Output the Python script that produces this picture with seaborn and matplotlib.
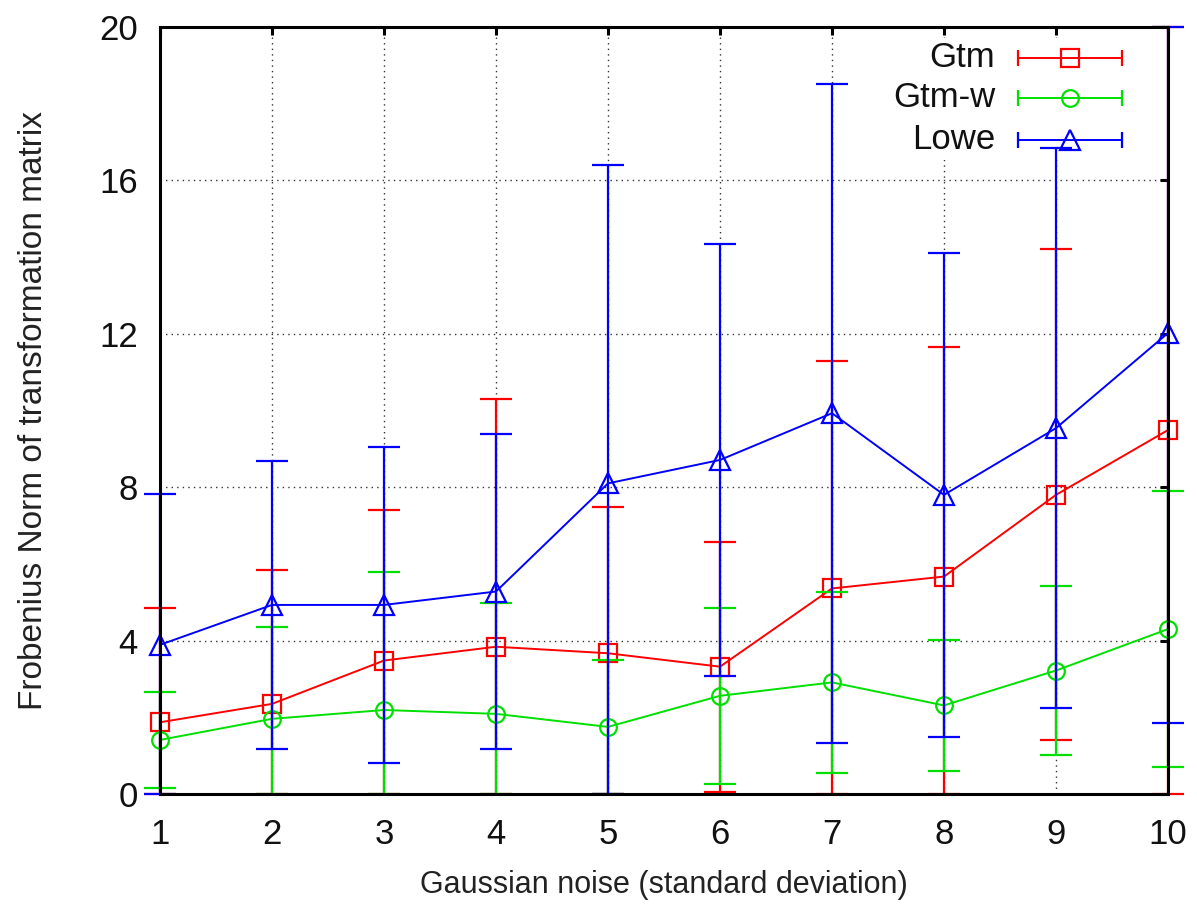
import numpy as np
import pandas as pd
import matplotlib
matplotlib.use("Agg")
import matplotlib.pyplot as plt
import seaborn as sns

# Noise levels (standard deviation of the added Gaussian noise)
noise = [1, 2, 3, 4, 5, 6, 7, 8, 9, 10]

# Mean Frobenius norm and its standard deviation for each method
gtm_mean = [1.87, 2.35, 3.48, 3.84, 3.67, 3.32, 5.36, 5.67, 7.80, 9.49]
gtm_std = [2.97, 3.49, 3.93, 6.46, 3.81, 3.26, 5.93, 5.99, 6.40, 10.8]

gtmw_mean = [1.41, 1.96, 2.19, 2.09, 1.75, 2.56, 2.91, 2.31, 3.22, 4.30]
gtmw_std = [1.25, 2.40, 3.60, 2.88, 1.74, 2.29, 2.36, 1.71, 2.20, 3.60]

lowe_mean = [3.89, 4.93, 4.93, 5.28, 8.10, 8.71, 9.93, 7.80, 9.54, 12.02]
lowe_std = [3.93, 3.76, 4.11, 4.11, 8.30, 5.63, 8.59, 6.31, 7.30, 10.16]

series_names = ["Gtm", "Gtm-w", "Lowe"]
series_colors = ["#ff0000", "#00e000", "#0000ff"]
series_markers = ["s", "o", "^"]
series_msize = [13, 12, 14]

y_ticks = [0, 4, 8, 12, 16, 20]
y_min, y_max = 0, 20

frames = []
for name, m, s in zip(series_names, [gtm_mean, gtmw_mean, lowe_mean],
                      [gtm_std, gtmw_std, lowe_std]):
    frames.append(pd.DataFrame({"noise": noise, "mean": m, "std": s, "method": name}))
df = pd.concat(frames, ignore_index=True)

sns.set_theme(style="white")
plt.rcParams["font.family"] = ["Liberation Sans", "DejaVu Sans"]

fig = plt.figure(figsize=(11.97, 9.16), dpi=100)
ax = fig.add_axes([160 / 1197, 1 - 794 / 916, 1008 / 1197, 767 / 916])

for name, color, marker, msize in zip(series_names, series_colors,
                                      series_markers, series_msize):
    d = df[df["method"] == name]
    # error bars are cut at the plot range, with the caps kept on the border
    lo = np.clip(d["mean"] - d["std"], y_min, y_max)
    hi = np.clip(d["mean"] + d["std"], y_min, y_max)
    eb = ax.errorbar(d["noise"], d["mean"], yerr=[d["mean"] - lo, hi - d["mean"]],
                     fmt="none", ecolor=color, elinewidth=1.6, capsize=11.5,
                     capthick=1.6, zorder=2)
    for art in eb.lines[1] + eb.lines[2]:
        art.set_clip_on(False)
    sns.lineplot(data=d, x="noise", y="mean", ax=ax, color=color, lw=1.4,
                 marker=marker, markersize=msize, markerfacecolor="none",
                 markeredgecolor=color, markeredgewidth=1.6, clip_on=False,
                 errorbar=None, legend=False, zorder=2)

ax.set_xlim(1, 10)
ax.set_ylim(y_min, y_max)
ax.set_xticks(noise)
ax.set_yticks(y_ticks)
ax.set_axisbelow(True)
ax.grid(True, color="black", linestyle=(0, (1, 3)), linewidth=1.0, alpha=0.8)

for sp in ax.spines.values():
    sp.set_visible(True)
    sp.set_color("black")
    sp.set_linewidth(2.2)
    sp.set_zorder(3)

ax.tick_params(axis="both", which="major", direction="in", length=6, width=2.2,
               color="black", labelsize=25, top=True, right=True,
               labelcolor="#111111")
ax.tick_params(axis="x", pad=17)
ax.tick_params(axis="y", pad=16)

ax.set_xlabel("Gaussian noise (standard deviation)", fontsize=22, color="#222222",
              labelpad=14)
ax.set_ylabel("Frobenius Norm of transformation matrix", fontsize=24,
              color="#222222", labelpad=36)

# Key: opaque box over the grid, text right-aligned, samples with end caps
ax.add_patch(plt.Rectangle((0.714, 0.826), 0.248, 0.16, transform=ax.transAxes,
                           facecolor="white", edgecolor="none", zorder=1.5))
key_y = [0.9596, 0.9075, 0.8527]
x0, x1, xm = 0.851, 0.954, 0.9025
for name, color, marker, msize, ky in zip(series_names, series_colors,
                                          series_markers, series_msize, key_y):
    ax.text(0.8284, ky, name, transform=ax.transAxes, ha="right", va="center",
            fontsize=25, color="#111111", zorder=4)
    ax.plot([x0, x1], [ky, ky], transform=ax.transAxes, color=color, lw=1.4,
            zorder=4, clip_on=False)
    ax.plot([x0, x1], [ky, ky], transform=ax.transAxes, color=color, lw=0,
            marker="|", markersize=12, markeredgewidth=1.6, zorder=4, clip_on=False)
    ax.plot([xm], [ky], transform=ax.transAxes, color=color, lw=0, marker=marker,
            markersize=msize, markerfacecolor="none", markeredgecolor=color,
            markeredgewidth=1.6, zorder=4, clip_on=False)

fig.savefig("out.png", dpi=100, facecolor="white")
